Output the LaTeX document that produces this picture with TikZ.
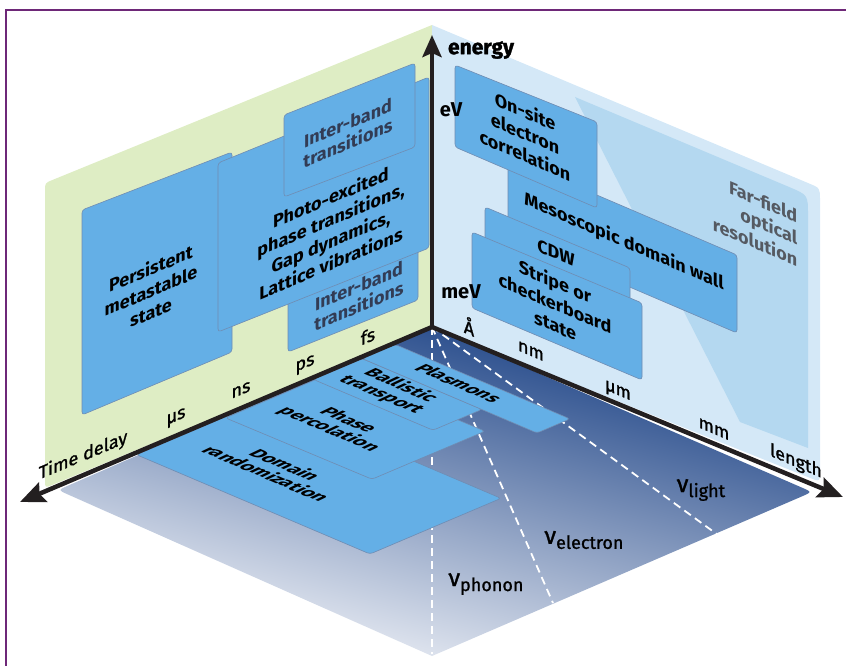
\documentclass[tikz,border=0pt]{standalone}
\usepackage{fontspec}
\setmainfont{Fira Sans}
\newfontfamily\medfont{Fira Sans}[FakeBold=1.2]
\usetikzlibrary{arrows.meta}
\definecolor{wallgreen}{RGB}{222,237,196}
\definecolor{wallblue}{RGB}{212,232,247}
\definecolor{farblue}{RGB}{180,216,240}
\definecolor{panel}{RGB}{100,175,230}
\definecolor{panelline}{RGB}{112,140,178}
\definecolor{axisblack}{RGB}{35,31,32}
\definecolor{framepurple}{RGB}{110,40,120}
\definecolor{floordark}{RGB}{18,58,128}
\definecolor{floormid}{RGB}{98,126,176}
\definecolor{floorlight}{RGB}{248,249,252}
\definecolor{intertext}{RGB}{50,60,85}
\definecolor{fartext}{RGB}{85,90,98}
\begin{document}
\begin{tikzpicture}[x=1pt,y=-1pt,
  panelbox/.style={fill=panel,draw=panelline,line width=0.6pt,rounded corners=3pt},
  axisline/.style={draw=axisblack,line width=4.5pt},
  ptxt/.style={font=\bfseries\fontsize{18}{22}\selectfont,align=center,inner sep=0pt,text=black},
  ltxt/.style={ptxt,yslant=0.42},
  rtxt/.style={ptxt,yslant=-0.43},
  ftxt/.style={ptxt,font=\bfseries\fontsize{18}{20}\selectfont,cm={1,-0.43,0.95,0.45,(0,0)}},
  axtxt/.style={font=\medfont\fontsize{18}{22}\selectfont,inner sep=0pt,text=black},
  laxtxt/.style={axtxt,yslant=0.42},
  raxtxt/.style={axtxt,yslant=-0.43},
  unit/.style={font=\bfseries\fontsize{20}{22}\selectfont,inner sep=0pt,text=black},
  nulabel/.style={font=\medfont\fontsize{18}{22}\selectfont,inner sep=0pt,text=black},
  dashline/.style={draw=white,line width=1.8pt,dash pattern=on 8pt off 5pt}
]
\useasboundingbox (0,0) rectangle (846,666);
% frame
\draw[framepurple,line width=1.3pt] (6,666) -- (6,10) -- (846,10);

% key points
\coordinate (O) at (432,327);
\coordinate (etip) at (432,35);
\coordinate (ttip) at (20,502);
\coordinate (ltip) at (843,497);
\coordinate (nuph) at (432,654);
\coordinate (nuel) at (553,603);
\coordinate (nuli) at (718,535);

% walls
\fill[wallgreen] (432,25) -- (52.4,180) .. controls (45,183) .. (45,191) -- (45,480) .. controls (45,488) .. (52.4,484.9) -- (O) -- cycle;
\fill[wallblue] (432,25) -- (808.9,183.4) .. controls (820,188) .. (820,200) -- (820,470) .. controls (820,482) .. (808.9,477.5) -- (O) -- cycle;
\fill[farblue] (575,97) -- (789.6,187.2) .. controls (808,195) .. (808,215) -- (808,448) -- (740,422) -- cycle;

% floor
\shade[top color=floordark,middle color=floormid,bottom color=floorlight,shading angle=-15]
  (O) -- (67.2,486) .. controls (58,490) .. (67.1,494.1) -- (432,656) -- (802.8,496) .. controls (812,492) .. (802.8,488) -- cycle;

% dashed velocity lines
\draw[dashline] (O) -- (nuph);
\draw[dashline] (O) -- (nuel);
\draw[dashline] (O) -- (nuli);

% floor panels
\draw[panelbox] (267.5,399.0) -- (501,498.3) -- (370,554) -- (136.5,454.7) -- cycle;
\draw[panelbox] (338.5,369.9) -- (485,431.2) -- (372,479.2) -- (225.5,417.9) -- cycle;
\draw[panelbox] (362.5,358.7) -- (482,409.4) -- (433,430.2) -- (313.5,379.5) -- cycle;
\draw[panelbox] (395.5,344.6) -- (570,418.9) -- (537,433) -- (362.5,358.7) -- cycle;

% left wall panels
\draw[panelbox] (82,210) -- (232,152) -- (232,352) -- (82,415) -- cycle;
\draw[panelbox] (288,270) -- (418,218) -- (418,300) -- (288,352) -- cycle;
\draw[panelbox] (218,163) -- (429,77) -- (429,248) -- (218,332) -- cycle;
\draw[panelbox] (284,115) -- (415,63) -- (415,147) -- (284,197) -- cycle;

% right wall panels
\draw[panelbox] (508,157) -- (737,255) -- (737,333) -- (508,235) -- cycle;
\draw[panelbox] (455,65) -- (597,122) -- (597,208) -- (455,147) -- cycle;
\draw[panelbox] (485,207) -- (630,268) -- (630,340) -- (485,280) -- cycle;
\draw[panelbox] (472,232) -- (642,303) -- (642,380) -- (472,308) -- cycle;

% axes
\draw[axisline,{Stealth[length=25pt,width=21pt,inset=4pt]}-{Stealth[length=25pt,width=21pt,inset=4pt]}] (ttip) -- (O) -- (ltip);
\draw[axisline,-{Stealth[length=22pt,width=19pt,inset=4pt]}] (O) -- (etip);

% left wall texts
\node[ltxt] (tpers) at (151,290) {Persistent\\metastable\\state};
\node[ltxt] (tphoto) at (331,230) {Photo-excited\\phase transitions,\\Gap dynamics,\\Lattice vibrations};
\node[ltxt,text=intertext,font=\bfseries\fontsize{18}{20}\selectfont] (tinter1) at (348,133) {Inter-band\\transitions};
\node[ltxt,text=intertext,font=\bfseries\fontsize{18}{20}\selectfont] (tinter2) at (359,296) {Inter-band\\transitions};

% time axis labels
\node[laxtxt] (ttime) at (83,456) {Time delay};
\node[laxtxt] (tus) at (176,418) {μs};
\node[laxtxt] (tns) at (241,390) {ns};
\node[laxtxt] (tps) at (305,365) {ps};
\node[laxtxt] (tfs) at (368,336) {fs};

% right wall texts
\node[rtxt] (tonsite) at (525,133) {On-site\\electron\\correlation};
\node[rtxt] (tmeso) at (624,242) {Mesoscopic domain wall};
\node[rtxt] (tcdw) at (556,253) {CDW};
\node[rtxt] (tstripe) at (555,303) {Stripe or\\checkerboard\\state};
\node[rtxt,text=fartext,align=right] (tfar) at (755,220) {Far-field\\optical\\resolution};

% length axis labels
\node[raxtxt] (tang) at (469,326) {Å};
\node[raxtxt] (tnm) at (531,351) {nm};
\node[raxtxt] (tum) at (618,392) {μm};
\node[raxtxt] (tmm) at (714,429) {mm};
\node[raxtxt] (tlen) at (796,462) {length};

% energy axis labels
\node[unit,font=\bfseries\fontsize{21}{22}\selectfont\addfontfeatures{FakeBold=1.5}] (tenergy) at (481,50) {energy};
\node[unit] (teV) at (451,110) {eV};
\node[unit] (tmeV) at (461,292) {meV};

% floor texts
\node[ftxt] (tplas) at (459,383) {Plasmons};
\node[ftxt] (tball) at (391,390) {Ballistic\\transport};
\node[ftxt] (tphase) at (338,425) {Phase\\percolation};
\node[ftxt] (tdomain) at (276,469) {Domain\\randomization};

% velocity labels
\node[nulabel] (lli) at (701,490) {{\fontsize{24}{24}\selectfont ν}\raisebox{-5pt}{light}};
\node[nulabel] (lel) at (584,540) {{\fontsize{24}{24}\selectfont ν}\raisebox{-5pt}{electron}};
\node[nulabel] (lph) at (486,584) {{\fontsize{24}{24}\selectfont ν}\raisebox{-5pt}{phonon}};
\end{tikzpicture}
\end{document}
